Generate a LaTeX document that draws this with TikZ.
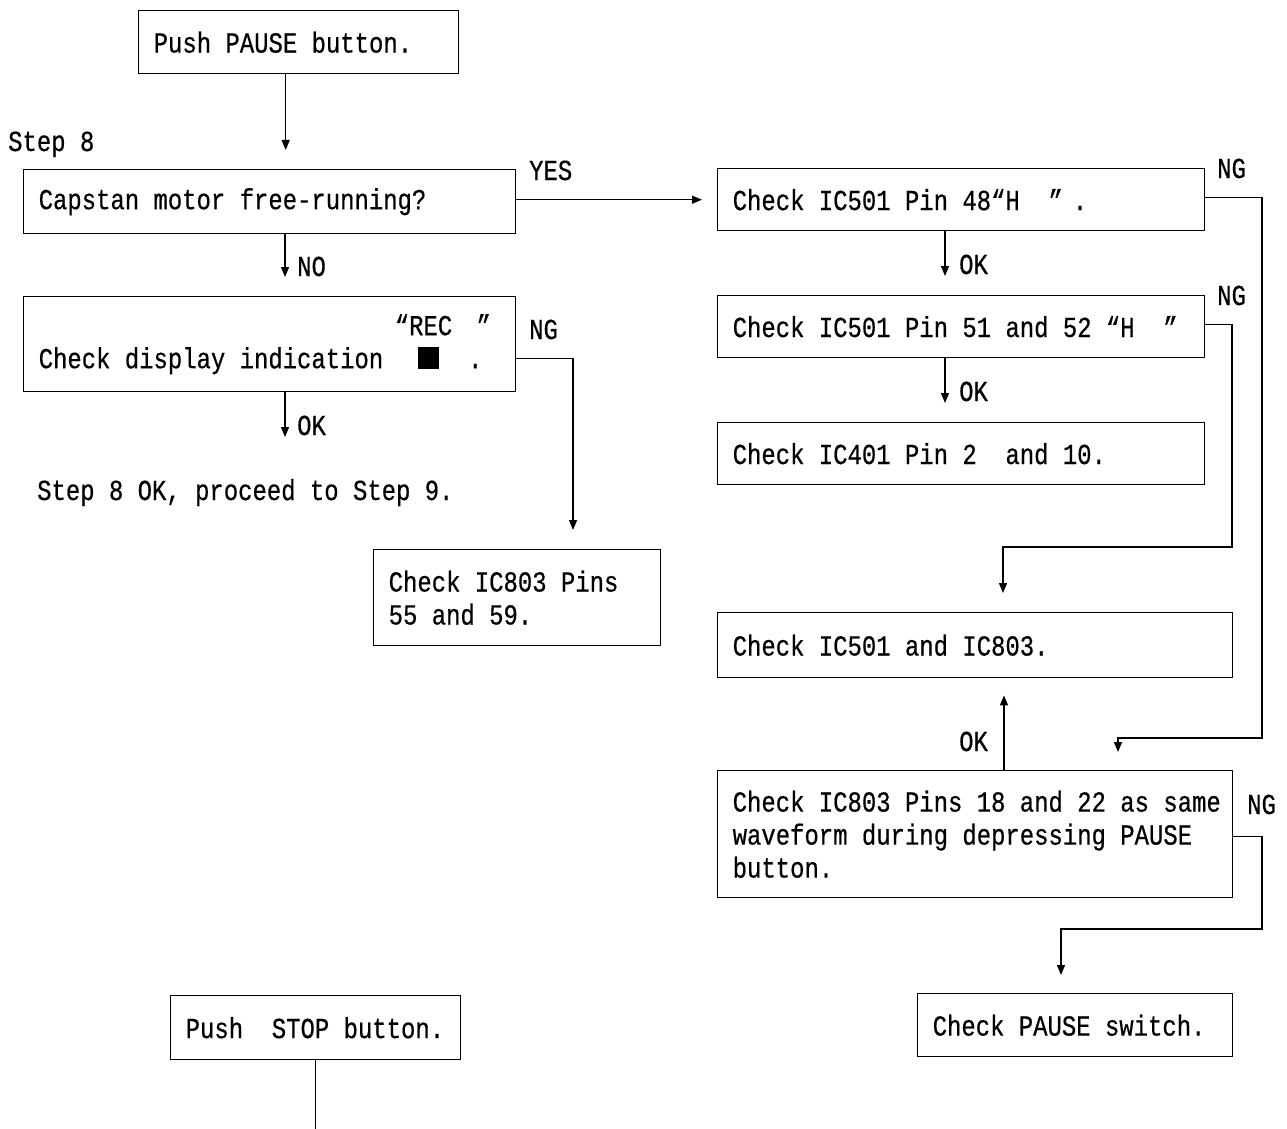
\documentclass[tikz,border=0pt]{standalone}
\usepackage{fontspec}
\setmainfont{Liberation Mono}[FakeStretch=0.825, FakeBold=0.5]
\usetikzlibrary{calc,arrows.meta}
\newlength\chw
\newcommand\monofont{\fontsize{29}{33}\selectfont\frenchspacing\settowidth{\chw}{M}\spaceskip=\chw\relax\xspaceskip=\chw\relax}
\begin{document}
\begin{tikzpicture}[x=1pt,y=-1pt,
  every node/.style={font=\monofont},
  box/.style={draw, line width=1.4pt, anchor=north west, inner xsep=15pt, inner ysep=0pt, align=flush left,
    execute at begin node={\spaceskip=\chw\relax\xspaceskip=\chw\relax}},
  lbl/.style={inner sep=0pt, anchor=base west},
  arr/.style={line width=1.3pt, -{Triangle[length=10pt,width=8pt]}},
  ln/.style={line width=1.3pt}]
\useasboundingbox (0,0) rectangle (1287,1129);

% boxes
\node[box, minimum width=320pt, minimum height=63pt, text width=290pt] (b1) at (138,10) {\mbox{Push PAUSE button.}};
\node[box, minimum width=492pt, minimum height=64pt, text width=462pt] (b2) at (23,169) {\mbox{Capstan motor free-running?}};
\node[box, minimum width=492pt, minimum height=95pt, text width=462pt] (b3) at (23,296)
  {\mbox{\hspace*{24.8\chw}“REC\hspace*{1.7\chw}”}\\
   \mbox{Check display indication\hspace*{2.45\chw}\rule[-1pt]{21pt}{22pt}\hspace*{2.0\chw}.}};
\node[box, minimum width=287pt, minimum height=96pt, text width=257pt] (b4) at (373,549) {\mbox{Check IC803 Pins}\\\mbox{55 and 59.}};
\node[box, minimum width=487pt, minimum height=62pt, text width=457pt] (b5) at (717,168) {\mbox{Check IC501 Pin 48“H\hspace*{2\chw}”\hspace*{0.7\chw}.}};
\node[box, minimum width=487pt, minimum height=62pt, text width=457pt] (b6) at (717,295) {\mbox{Check IC501 Pin 51 and 52 “H\hspace*{2\chw}”}};
\node[box, minimum width=487pt, minimum height=62pt, text width=457pt] (b7) at (717,422) {\mbox{Check IC401 Pin 2\hspace*{2\chw}and 10.}};
\node[box, minimum width=515pt, minimum height=65pt, text width=485pt] (b8) at (717,612) {\mbox{Check IC501 and IC803.}};
\node[box, minimum width=515pt, minimum height=127pt, text width=485pt] (b9) at (717,770) {\mbox{Check IC803 Pins 18 and 22 as same}\\\mbox{waveform during depressing PAUSE}\\\mbox{button.}};
\node[box, minimum width=315pt, minimum height=63pt, text width=285pt] (b10) at (917,993) {\mbox{Check PAUSE switch.}};
\node[box, minimum width=290pt, minimum height=64pt, text width=260pt] (b11) at (170,995) {\mbox{Push\hspace*{2\chw}STOP button.}};

% labels
\node[lbl] (s8) at (8,151) {Step 8};
\node[lbl] (lyes) at (529,180) {YES};
\node[lbl] (lno) at (297,276) {NO};
\node[lbl] (lok1) at (297,435) {OK};
\node[lbl] (lng1) at (529,339) {NG};
\node[lbl] (lok2) at (959,274) {OK};
\node[lbl] (lok3) at (959,401) {OK};
\node[lbl] (lng2) at (1217,178) {NG};
\node[lbl] (lng3) at (1217,305) {NG};
\node[lbl] (lok4) at (959,751) {OK};
\node[lbl] (lng4) at (1247,814) {NG};
\node[lbl] (s8ok) at (37,500) {Step 8 OK, proceed to Step 9.};

% connectors
\draw[arr, shorten >=19pt] ([xshift=-13pt]b1.south) -- ([xshift=-13pt]b1.south |- b2.north);
\draw[arr, shorten >=19pt] ($(b2.south west)+(262,0)$) -- ($(b3.north west)+(262,0)$);
\coordinate (e3) at (285,437);
\draw[arr] ($(b3.south west)+(262,0)$) -- (e3);
\draw[arr, shorten >=15pt] ([yshift=2pt]b2.east) -- ([yshift=2pt]b2.east -| b5.west);
\draw[arr, shorten >=19pt] ([yshift=-14pt]b3.east) -| ($(b4.north west)+(200,0)$);
\draw[arr, shorten >=19pt] ($(b5.south west)+(228,0)$) -- ($(b6.north west)+(228,0)$);
\draw[arr, shorten >=19pt] ($(b6.south west)+(228,0)$) -- ($(b7.north west)+(228,0)$);
\draw[arr, shorten >=18pt] ([yshift=2pt]b5.east) -| (1262,738) -| ($(b9.north west)+(401,0)$);
\draw[arr, shorten >=19pt] ([yshift=2pt]b6.east) -| (1232,547) -| ($(b8.north west)+(286,0)$);
\draw[arr, shorten >=17pt] ($(b9.north west)+(287,0)$) -- ($(b8.south west)+(287,0)$);
\draw[arr, shorten >=18pt] ([yshift=-2pt]b9.east) -| (1262,929) -| ($(b10.north west)+(144,0)$);
\coordinate (e12) at (316,1129);
\draw[ln] (b11.south) -- (b11.south |- e12);
\end{tikzpicture}
\end{document}
